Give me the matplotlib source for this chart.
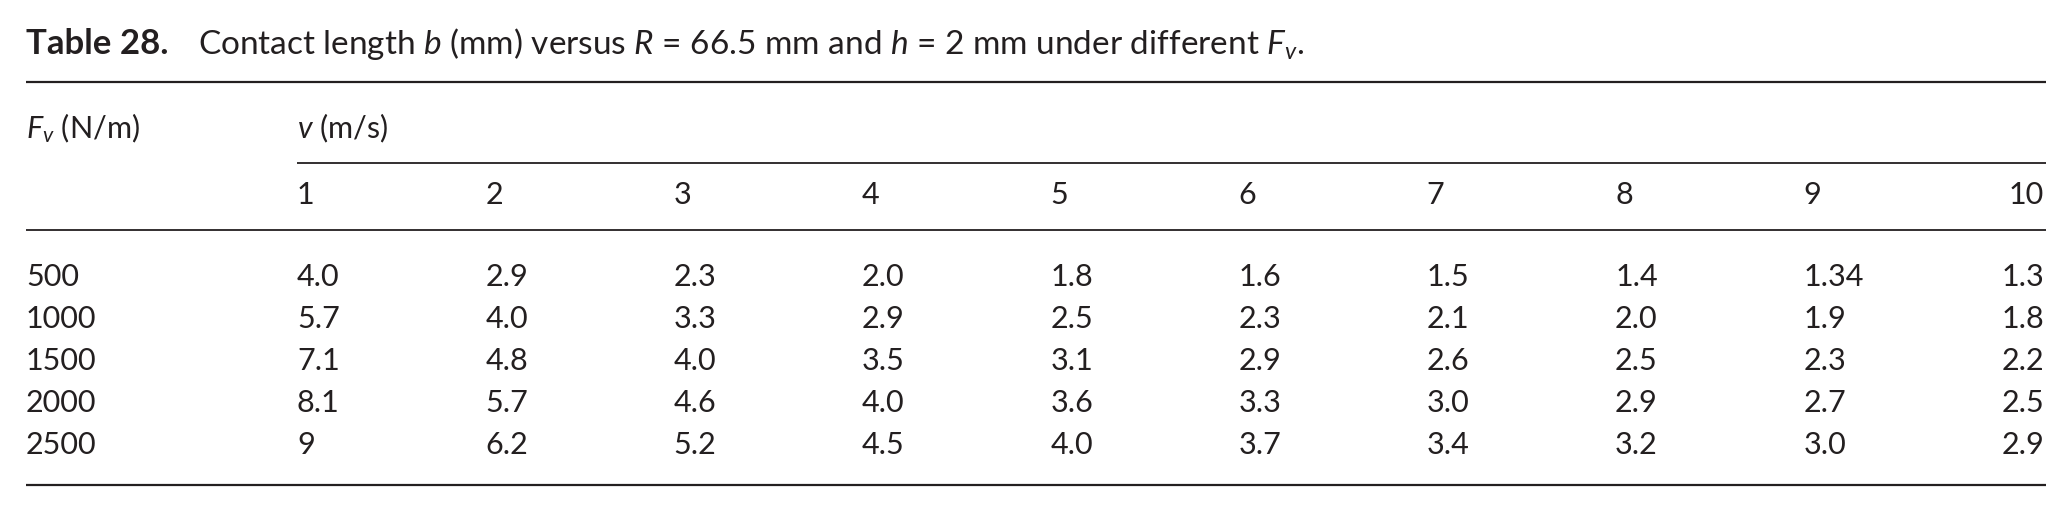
import matplotlib.pyplot as plt

# Fonts: Lato stands in for the journal's Gill Sans
plt.rcParams['font.family'] = ['Lato', 'DejaVu Sans']
plt.rcParams['mathtext.fontset'] = 'custom'
plt.rcParams['mathtext.rm'] = 'Lato'
plt.rcParams['mathtext.it'] = 'Lato:italic'
plt.rcParams['mathtext.bf'] = 'Lato:bold'

# Table content
v_values = ['1', '2', '3', '4', '5', '6', '7', '8', '9', '10']
fv_values = ['500', '1000', '1500', '2000', '2500']
b_500 = ['4.0', '2.9', '2.3', '2.0', '1.8', '1.6', '1.5', '1.4', '1.34', '1.3']
b_1000 = ['5.7', '4.0', '3.3', '2.9', '2.5', '2.3', '2.1', '2.0', '1.9', '1.8']
b_1500 = ['7.1', '4.8', '4.0', '3.5', '3.1', '2.9', '2.6', '2.5', '2.3', '2.2']
b_2000 = ['8.1', '5.7', '4.6', '4.0', '3.6', '3.3', '3.0', '2.9', '2.7', '2.5']
b_2500 = ['9', '6.2', '5.2', '4.5', '4.0', '3.7', '3.4', '3.2', '3.0', '2.9']
b_rows = [b_500, b_1000, b_1500, b_2000, b_2500]

INK = '#231f20'
FS = 22
FS_CAP = 24

fig = plt.figure(figsize=(20.72, 5.12), dpi=100)
ax = fig.add_axes([0, 0, 1, 1])
ax.set_xlim(0, 2072)
ax.set_ylim(512, 0)
ax.axis('off')

# caption: bold label, then the body right after it
lab = ax.text(26, 44, 'Table 28.', fontsize=FS_CAP + 1, fontweight='bold', color=INK,
              va='center', ha='left')
fig.canvas.draw()
bb = lab.get_window_extent()
x_body = bb.x1 + 30
ax.text(x_body, 44, r'Contact length $b$ (mm) versus $R$ = 66.5 mm and $h$ = 2 mm under different $F_v$.',
        fontsize=FS_CAP, color=INK, va='center', ha='left')

# rules
left, right = 26, 2046
col_x = [297 + i * 188.3 for i in range(9)]
ax.hlines(82, left, right, color=INK, lw=1.6)
ax.hlines(163, col_x[0], right, color=INK, lw=1.3)
ax.hlines(230, left, right, color=INK, lw=1.3)
ax.hlines(485, left, right, color=INK, lw=1.6)

# header
ax.text(left, 128, r'$F_v$ (N/m)', fontsize=FS, color=INK, va='center', ha='left')
ax.text(col_x[0], 128, r'$v$ (m/s)', fontsize=FS, color=INK, va='center', ha='left')


def put_row(y, cells):
    for j, s in enumerate(cells):
        if j < 9:
            ax.text(col_x[j], y, s, fontsize=FS, color=INK, va='center', ha='left')
        else:
            ax.text(right - 2, y, s, fontsize=FS, color=INK, va='center', ha='right')


put_row(195, v_values)

row_y = [277 + i * 42.0 for i in range(len(fv_values))]
for y, fv, cells in zip(row_y, fv_values, b_rows):
    ax.text(left, y, fv, fontsize=FS, color=INK, va='center', ha='left')
    put_row(y, cells)

plt.savefig('out.png', dpi=100, facecolor='white')
